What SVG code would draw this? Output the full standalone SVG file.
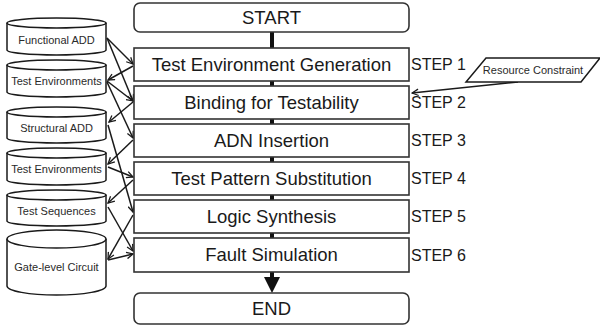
<svg xmlns="http://www.w3.org/2000/svg" width="600" height="329" viewBox="0 0 600 329">
<defs>
<marker id="ah" viewBox="0 0 10 10" refX="9" refY="5" markerWidth="8" markerHeight="8" markerUnits="userSpaceOnUse" orient="auto">
<path d="M1,1 L9,5 L1,9" fill="none" stroke="#1a1a1a" stroke-width="1.6"/>
</marker>
</defs>
<style>
.box{fill:#fff;stroke:#333;stroke-width:1.6}
.cyl{fill:#fff;stroke:#1a1a1a;stroke-width:1.5}
.bt{font-family:"Liberation Sans",Arial,sans-serif;font-size:18.5px;fill:#1a1a1a;text-anchor:middle}
.ct{font-family:"Liberation Sans",Arial,sans-serif;font-size:11px;fill:#2a2a2a;text-anchor:middle}
.st{font-family:"Liberation Sans",Arial,sans-serif;font-size:16px;fill:#1a1a1a}
.ar{stroke:#1a1a1a;stroke-width:1.5;fill:none;marker-end:url(#ah)}
</style>
<rect width="600" height="329" fill="#fff"/>

<g id="connectors">
<rect x="270" y="31" width="4" height="17" fill="#111"/>
<rect x="270" y="81" width="4" height="5" fill="#111"/>
<rect x="270" y="119" width="4" height="5" fill="#111"/>
<rect x="270" y="157" width="4" height="5" fill="#111"/>
<rect x="270" y="195" width="4" height="5" fill="#111"/>
<rect x="270" y="233" width="4" height="5" fill="#111"/>
<rect x="270" y="272" width="4" height="6" fill="#111"/>
<polygon points="264,277 280,277 272,293" fill="#111"/>
<line class="ar" x1="107" y1="38" x2="133" y2="64"/>
<line class="ar" x1="107" y1="38" x2="133" y2="101"/>
<line class="ar" x1="133" y1="66" x2="108" y2="80"/>
<line class="ar" x1="107" y1="81" x2="133" y2="101"/>
<line class="ar" x1="107" y1="82" x2="133" y2="138"/>
<line class="ar" x1="133" y1="102" x2="109" y2="122"/>
<line class="ar" x1="108" y1="125" x2="133" y2="212"/>
<line class="ar" x1="133" y1="140" x2="108" y2="164"/>
<line class="ar" x1="108" y1="167" x2="133" y2="177"/>
<line class="ar" x1="133" y1="180" x2="108" y2="203"/>
<line class="ar" x1="108" y1="207" x2="133" y2="251"/>
<line class="ar" x1="133" y1="215" x2="108" y2="259"/>
<line class="ar" x1="108" y1="260" x2="133" y2="254"/>
<line class="ar" x1="518" y1="82" x2="412" y2="93"/>
</g>

<g id="start"><rect class="box" x="134" y="3" width="275" height="29" rx="6"/><text class="bt" x="271.5" y="24">START</text></g>
<g id="step1"><rect class="box" x="134" y="48" width="275" height="33"/><text class="bt" x="271.5" y="71">Test Environment Generation</text></g>
<g id="step2"><rect class="box" x="134" y="86" width="275" height="33"/><text class="bt" x="271.5" y="109">Binding for Testability</text></g>
<g id="step3"><rect class="box" x="134" y="124" width="275" height="33"/><text class="bt" x="271.5" y="147">ADN Insertion</text></g>
<g id="step4"><rect class="box" x="134" y="162" width="275" height="33"/><text class="bt" x="271.5" y="185">Test Pattern Substitution</text></g>
<g id="step5"><rect class="box" x="134" y="200" width="275" height="33"/><text class="bt" x="271.5" y="223">Logic Synthesis</text></g>
<g id="step6"><rect class="box" x="134" y="238" width="275" height="34"/><text class="bt" x="271.5" y="261">Fault Simulation</text></g>
<g id="end"><rect class="box" x="134" y="293" width="275" height="31" rx="6"/><text class="bt" x="271.5" y="315">END</text></g>

<g id="labels">
<text class="st" x="411" y="70">STEP 1</text>
<text class="st" x="411" y="108">STEP 2</text>
<text class="st" x="411" y="146">STEP 3</text>
<text class="st" x="411" y="184">STEP 4</text>
<text class="st" x="411" y="222">STEP 5</text>
<text class="st" x="411" y="261">STEP 6</text>
</g>

<g id="resource"><polygon class="cyl" points="486,58 600,58 581,82 466,82"/><text class="ct" x="533" y="74">Resource Constraint</text></g>

<g id="functional-add"><path class="cyl" d="M7,23 L7,50 A49.5,5 0 0 0 106,50 L106,23"/><ellipse class="cyl" cx="56.5" cy="23" rx="49.5" ry="5"/><text class="ct" x="56.5" y="44">Functional ADD</text></g>
<g id="test-env-1"><path class="cyl" d="M7,65 L7,92 A49.5,5 0 0 0 106,92 L106,65"/><ellipse class="cyl" cx="56.5" cy="65" rx="49.5" ry="5"/><text class="ct" x="56.5" y="85">Test Environments</text></g>
<g id="structural-add"><path class="cyl" d="M7,112 L7,138 A49.5,5 0 0 0 106,138 L106,112"/><ellipse class="cyl" cx="56.5" cy="112" rx="49.5" ry="5"/><text class="ct" x="56.5" y="132">Structural ADD</text></g>
<g id="test-env-2"><path class="cyl" d="M7,153 L7,180 A49.5,5 0 0 0 106,180 L106,153"/><ellipse class="cyl" cx="56.5" cy="153" rx="49.5" ry="5"/><text class="ct" x="56.5" y="173">Test Environments</text></g>
<g id="test-seq"><path class="cyl" d="M7,195 L7,221 A49.5,5 0 0 0 106,221 L106,195"/><ellipse class="cyl" cx="56.5" cy="195" rx="49.5" ry="5"/><text class="ct" x="56.5" y="215">Test Sequences</text></g>
<g id="gate-level"><path class="cyl" d="M7,239 L7,286 A49.5,9 0 0 0 106,286 L106,239"/><ellipse class="cyl" cx="56.5" cy="239" rx="49.5" ry="9"/><text class="ct" x="56.5" y="271">Gate-level Circuit</text></g>
</svg>
